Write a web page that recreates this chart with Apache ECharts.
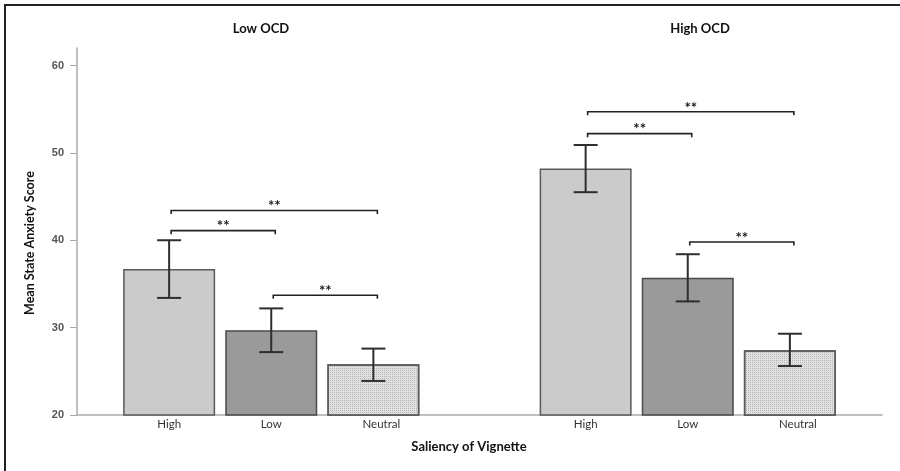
<!DOCTYPE html>
<html><head><meta charset="utf-8">
<script src="https://cdn.jsdelivr.net/npm/echarts@6/dist/echarts.min.js"></script>
<style>html,body{margin:0;padding:0;background:#fff}#c{width:900px;height:471px}</style>
</head><body><div id="c"></div>
<script>
// ---- data ----
const groups = ['Low OCD', 'High OCD'];
const saliency = ['High', 'Low', 'Neutral'];
const lowOcdMean  = [36.7, 29.7, 25.8];
const lowOcdLower = [33.4, 27.2, 23.9];
const lowOcdUpper = [40.0, 32.2, 27.6];
const highOcdMean  = [48.2, 35.7, 27.4];
const highOcdLower = [45.5, 33.0, 25.6];
const highOcdUpper = [50.9, 38.4, 29.3];
const yTicks = [20, 30, 40, 50, 60];
// [groupIndex, fromBar, toBar, bracketValue]
const brackets = [
  [0, 0, 2, 43.4], [0, 0, 1, 41.1], [0, 1, 2, 33.7],
  [1, 0, 2, 54.7], [1, 0, 1, 52.2], [1, 1, 2, 39.8]
];
const sigLabel = '**';
const yTitle = 'Mean State Anxiety Score';
const xTitle = 'Saliency of Vignette';

// ---- style ----
const BAR_W = 92, BAR_GAP = 0.11;
const STEP = BAR_W * (1 + BAR_GAP);
const FONT = 'Lato, "Open Sans", sans-serif';
const means = [lowOcdMean, highOcdMean];
const lowers = [lowOcdLower, highOcdLower];
const uppers = [lowOcdUpper, highOcdUpper];

const barStyles = [
  { color: '#cbcbcb', borderColor: '#5a5a5a', borderWidth: 1.5 },
  { color: '#9a9a9a', borderColor: '#4a4a4a', borderWidth: 1.5 },
  { color: '#e2e2e2', borderColor: '#5a5a5a', borderWidth: 1.5,
    decal: { symbol: 'rect', symbolSize: 1, dashArrayX: [1, 1], dashArrayY: [1, 1], color: '#b4b4b4' } }
];

const barSeries = saliency.map((name, b) => ({
  type: 'bar', name: name, xAxisIndex: 1, yAxisIndex: 1,
  data: groups.map((g, gi) => means[gi][b]),
  barWidth: BAR_W, barGap: (BAR_GAP * 100) + '%',
  itemStyle: barStyles[b],
  label: {
    show: true, position: 'bottom', distance: 3, formatter: name,
    color: '#333', fontFamily: FONT, fontSize: 11.5,
    offset: b === 2 ? [8, 0] : [0, 0]
  },
  emphasis: { disabled: true },
  z: 2
}));

const errData = [];
groups.forEach((g, gi) => saliency.forEach((s, b) => {
  errData.push([gi, lowers[gi][b], uppers[gi][b], b]);
}));

const errSeries = {
  type: 'custom', xAxisIndex: 1, yAxisIndex: 1, clip: false, z: 5,
  data: errData,
  encode: { x: 0, y: [1, 2] },
  renderItem: function (params, api) {
    const gi = api.value(0), b = api.value(3);
    const lo = api.coord([gi, api.value(1)]);
    const hi = api.coord([gi, api.value(2)]);
    const x = lo[0] + (b - 1) * STEP;
    const cap = 12;
    const st = { stroke: '#2e2e2e', lineWidth: 2, fill: null };
    return { type: 'group', children: [
      { type: 'line', shape: { x1: x, y1: lo[1], x2: x, y2: hi[1] }, style: st },
      { type: 'line', shape: { x1: x - cap, y1: lo[1], x2: x + cap, y2: lo[1] }, style: st },
      { type: 'line', shape: { x1: x - cap, y1: hi[1], x2: x + cap, y2: hi[1] }, style: st }
    ]};
  }
};

const brSeries = {
  type: 'custom', xAxisIndex: 1, yAxisIndex: 1, clip: false, z: 6,
  data: brackets,
  encode: { x: 0, y: 3 },
  renderItem: function (params, api) {
    const gi = api.value(0);
    const p = api.coord([gi, api.value(3)]);
    const x1 = p[0] + (api.value(1) - 1) * STEP + 2;
    const x2 = p[0] + (api.value(2) - 1) * STEP + 4;
    const y = p[1];
    return { type: 'group', children: [
      { type: 'polyline', shape: { points: [[x1, y + 3.5], [x1, y], [x2, y], [x2, y + 3.5]] },
        style: { stroke: '#222', lineWidth: 1.6, fill: null } },
      { type: 'text', x: (x1 + x2) / 2, y: y - 4,
        style: { text: sigLabel, fill: '#1a1a1a', font: 'bold 15px ' + FONT, align: 'center', verticalAlign: 'middle' } }
    ]};
  }
};

const chart = echarts.init(document.getElementById('c'), null, { renderer: 'canvas' });
chart.setOption({
  animation: false,
  backgroundColor: '#fff',
  grid: [
    { left: 77, right: 18, top: 48, bottom: 56 },
    { left: 63, right: 4, top: 48, bottom: 56 }
  ],
  xAxis: [
    { gridIndex: 0, type: 'value', min: 0, max: 1,
      axisLine: { show: true, onZero: false, lineStyle: { color: '#ababab', width: 1.5 } },
      axisTick: { show: false }, axisLabel: { show: false }, splitLine: { show: false } },
    { gridIndex: 1, type: 'category', data: groups, show: false }
  ],
  yAxis: [
    { gridIndex: 0, type: 'value', min: 20, max: 62, interval: 10,
      axisLine: { show: true, lineStyle: { color: '#ababab', width: 1.5 } },
      axisTick: { show: true, length: 7, customValues: yTicks, lineStyle: { color: '#ababab', width: 1 } },
      axisLabel: { show: true, customValues: yTicks, margin: 13, color: '#555', fontSize: 11,
        fontWeight: 'bold', fontFamily: 'Liberation Sans, Arial, sans-serif' },
      splitLine: { show: false } },
    { gridIndex: 1, type: 'value', min: 20, max: 62, show: false, splitLine: { show: false } }
  ],
  graphic: [
    { type: 'rect', shape: { x: 5, y: 5, width: 1000, height: 1000 },
      style: { stroke: '#222', lineWidth: 2, fill: null }, silent: true },
    { type: 'text', x: 261, y: 29, style: { text: groups[0], font: 'bold 13px ' + FONT, fill: '#111', align: 'center', verticalAlign: 'middle' } },
    { type: 'text', x: 700, y: 29, style: { text: groups[1], font: 'bold 13px ' + FONT, fill: '#111', align: 'center', verticalAlign: 'middle' } },
    { type: 'text', x: 469, y: 447, style: { text: xTitle, font: 'bold 13px ' + FONT, fill: '#111', align: 'center', verticalAlign: 'middle' } },
    { type: 'text', x: 30, y: 243, rotation: Math.PI / 2,
      style: { text: yTitle, font: 'bold 12.5px ' + FONT, fill: '#111', align: 'center', verticalAlign: 'middle' } }
  ],
  series: barSeries.concat([errSeries, brSeries])
});
</script></body></html>
